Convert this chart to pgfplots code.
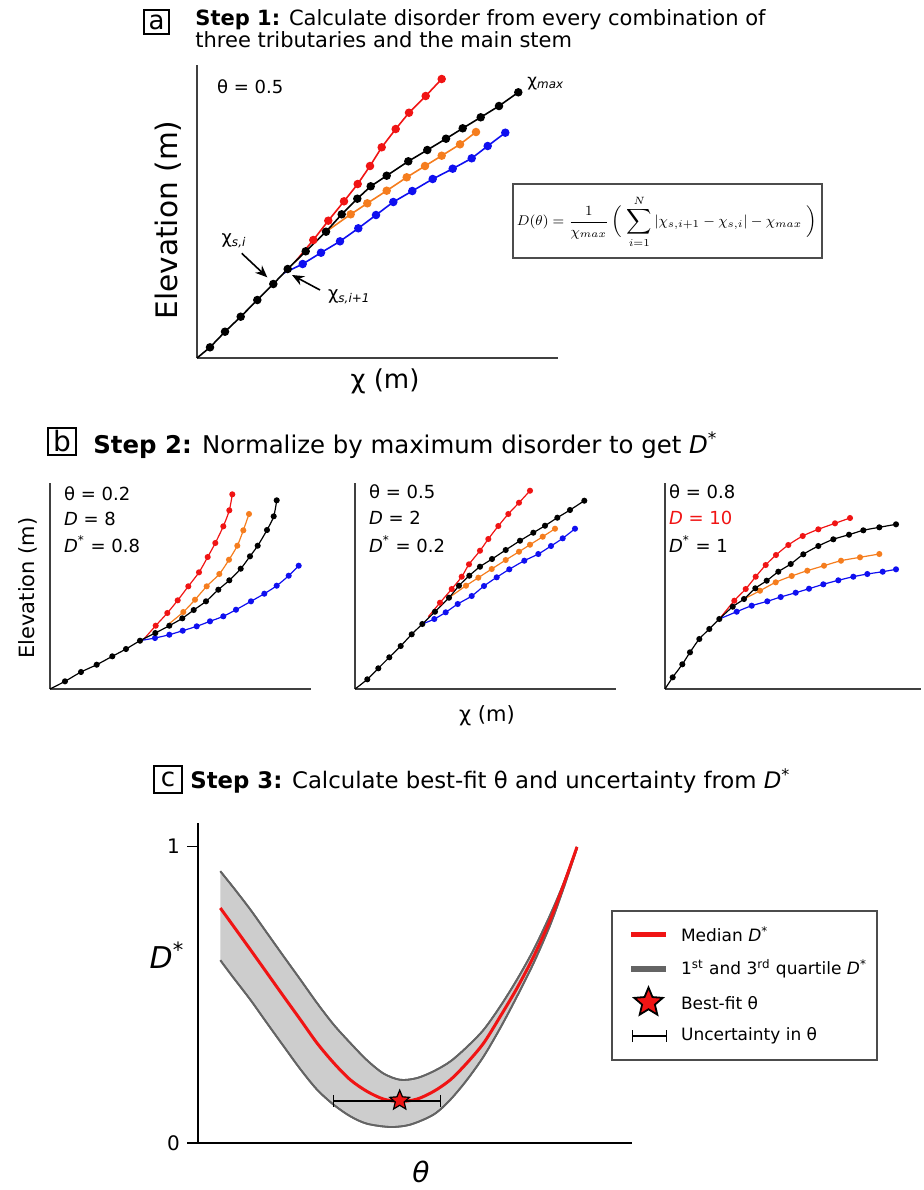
\documentclass[border=0pt]{standalone}
\usepackage{fontspec}
\setmainfont{DejaVu Sans}
\usepackage{pgfplots}
\pgfplotsset{compat=1.18}
\usepgfplotslibrary{fillbetween}
\usetikzlibrary{arrows.meta}
\definecolor{cred}{RGB}{240,20,20}
\definecolor{corange}{RGB}{245,125,30}
\definecolor{cblue}{RGB}{15,15,240}
\definecolor{qgray}{RGB}{100,100,100}
\definecolor{fgray}{RGB}{205,205,205}
\pgfdeclareplotmark{fstar}{%
 \pgfpathmoveto{\pgfpointpolar{90}{\pgfplotmarksize}}%
 \pgfpathlineto{\pgfpointpolar{126}{0.45\pgfplotmarksize}}%
 \pgfpathlineto{\pgfpointpolar{162}{\pgfplotmarksize}}%
 \pgfpathlineto{\pgfpointpolar{198}{0.45\pgfplotmarksize}}%
 \pgfpathlineto{\pgfpointpolar{234}{\pgfplotmarksize}}%
 \pgfpathlineto{\pgfpointpolar{270}{0.45\pgfplotmarksize}}%
 \pgfpathlineto{\pgfpointpolar{306}{\pgfplotmarksize}}%
 \pgfpathlineto{\pgfpointpolar{342}{0.45\pgfplotmarksize}}%
 \pgfpathlineto{\pgfpointpolar{18}{\pgfplotmarksize}}%
 \pgfpathlineto{\pgfpointpolar{54}{0.45\pgfplotmarksize}}%
 \pgfpathclose
 \pgfusepathqfillstroke}
\pgfplotsset{
 panel/.style={scale only axis, axis x line=bottom, axis y line=left,
   axis line style={-, line width=0.9pt, black!75}, xtick=\empty, ytick=\empty,
   clip=false, xmin=0, ymin=0, anchor=south west},
 la/.style={line width=0.8pt, mark=*, mark size=1.7pt, mark phase=2, mark repeat=1},
 lb/.style={line width=0.6pt, smooth, mark=*, mark size=1.2pt, mark phase=2, mark repeat=1},
}
\begin{document}
\begin{tikzpicture}
% ================= axes (positions in pt: px*0.5, y negative) =================
% ---------- panel a ----------
\begin{axis}[panel, at={(98.5pt,-179pt)}, width=180.5pt, height=146.5pt, xmax=361, ymax=293]
\addplot[la, cred] coordinates {(98,96)(116.3,118)(131.3,137.3)(147,156.7)(160.7,174)(173,192)(184.7,210.7)(198.7,229)(212,245.3)(228.7,262)(244.7,279)};
\addplot[la, corange] coordinates {(129,126.3)(153.7,143.7)(170.3,154.7)(189.7,167.3)(209.7,180.7)(228,192)(244.7,202.3)(263,213.7)(279,226)};
\addplot[la, cblue] coordinates {(86.3,84.7)(105.7,94)(124,105.3)(143,116.7)(161.3,129.7)(179,143)(196.3,156)(215.3,167)(235.7,179)(255.7,189.3)(274.7,199.7)(290.7,212)(308.3,225.3)};
\addplot[la, black] coordinates {(0,0)(13,10.7)(28,26.3)(43.7,41.3)(60.3,58)(76.3,74)(90.7,89)(108.7,106.7)(129,126.3)(144.7,143.7)(160.3,159.3)(173.7,171.7)(189.7,182.3)(211.3,196.7)(230.3,208)(249,219.3)(265.7,229.7)(283.7,240.7)(302,252)(321.3,265.7)};
\end{axis}
% ---------- panel b ----------
\begin{axis}[panel, at={(25pt,-344.5pt)}, width=130.5pt, height=103pt, xmax=261, ymax=206]
\addplot[lb, cred] coordinates {(93.3,49.3)(105.7,63.3)(117.3,76)(127.7,88.7)(138.3,102.7)(149,116.7)(157.7,132)(165.3,146)(173.3,162.7)(179.3,178.7)(182.3,194.7)};
\addplot[lb, corange] coordinates {(116.7,63.3)(133.3,77)(145,89.3)(156.7,102.7)(169.3,115)(179,129.3)(187.3,143.3)(193.3,158.7)(199,175)};
\addplot[lb, cblue] coordinates {(91.7,48.7)(105,51)(119.3,54.3)(132.7,58.3)(146.7,62.7)(160,67.7)(173.3,72.7)(186,79.3)(201,87.7)(214.3,95.3)(226.7,103.3)(238.7,113.3)(248.7,123.3)};
\addplot[lb, black] coordinates {(0,0)(15,7.7)(31,17)(46.7,24.3)(62.3,32.7)(76,40)(90,48.3)(105.3,56)(119.3,63.3)(132.3,70.7)(143.7,79)(156,87.7)(168.3,99.3)(179.3,108.7)(190.7,120.3)(200,132.7)(207.7,143.3)(217,159)(223.7,172.7)(226.7,188.7)};
\end{axis}
\begin{axis}[panel, at={(177.5pt,-344.5pt)}, width=130.5pt, height=103pt, xmax=261, ymax=206]
\addplot[lb, cred] coordinates {(73.3,72.3)(85,86.3)(96.7,100)(106.7,112.3)(114,124.7)(125,138.3)(133.3,150)(143.3,163)(153.3,175)(164,186.3)(175,198.3)};
\addplot[lb, corange] coordinates {(94,91.3)(111,103.3)(123.3,111.3)(136.7,120)(150.7,129)(164,137.3)(175,144.3)(187.7,152.3)(200,160.3)};
\addplot[lb, cblue] coordinates {(67.3,65)(79.3,70)(90.7,76.7)(102.7,85)(116.7,93)(129,103)(141.7,111.7)(154.3,119.7)(169.3,128.3)(183.3,135)(196,143)(207.7,150.7)(220,160.3)};
\addplot[lb, black] coordinates {(0,0)(12.3,9.7)(23.3,20.7)(34.3,31.7)(45.7,43)(56.7,54.7)(67.3,65)(80,77.3)(94,91.3)(104,103.3)(114.3,113.3)(125,122.3)(137,130)(150.7,139)(165,148.3)(178.3,156.3)(190,163.3)(202.3,171.3)(215,179)(229.3,188.3)};
\end{axis}
\begin{axis}[panel, at={(332.5pt,-344.5pt)}, width=128pt, height=103pt, xmax=256, ymax=206]
\addplot[lb, cred] coordinates {(56,72)(69.3,88.3)(80.7,100)(90.7,112.3)(100.7,124)(111,134)(123.3,144)(137.7,153)(153.3,159.7)(170,165.7)(185,171)};
\addplot[lb, corange] coordinates {(79,90)(95,98.3)(110.7,106.7)(126.7,113)(142.3,118.3)(159,123.3)(176,128.3)(195,131.7)(214.3,135)};
\addplot[lb, cblue] coordinates {(54.3,70)(71.7,77.3)(86.7,83.3)(102.3,87.7)(115.7,92)(130.7,96.3)(144,100.3)(158.3,104.7)(173.3,108.7)(188.3,112.3)(202.3,115)(217.7,117.3)(231,119.7)};
\addplot[lb, black] coordinates {(0,0)(7.7,11.7)(17.3,24.7)(25,36.7)(34.3,50)(44.3,60)(54.3,70)(67.7,82.3)(79,90)(90.3,100.7)(101.7,108.3)(113.3,117.3)(125.7,125)(138.3,134.7)(153.3,143)(168.3,149.7)(184,154.3)(198.3,158.7)(214.3,161.7)(231,164.7)};
\end{axis}
% ---------- panel c ----------
\begin{axis}[scale only axis, at={(99pt,-571.5pt)}, anchor=south west, width=217pt, height=160pt,
  xmin=0, xmax=434, ymin=0, ymax=1.0786, clip=false,
  axis x line=bottom, axis y line=left, axis line style={-, line width=0.9pt, black},
  xtick=\empty, ytick={0,1}, tick align=outside, major tick length=5.5pt,
  tick style={line width=0.8pt, black},
  yticklabel style={font=\fontsize{10}{12}\selectfont},
  /pgf/number format/assume math mode=true]
\addplot[name path=up, draw=qgray, line width=0.9pt, smooth] coordinates {(22.33,0.916)(35.67,0.860)(52.33,0.787)(69,0.708)(85.67,0.629)(102.33,0.551)(119,0.472)(135.67,0.399)(152.33,0.337)(169,0.279)(185.67,0.234)(202.33,0.213)(219,0.219)(235.67,0.242)(252.33,0.275)(269,0.324)(285.67,0.382)(302.33,0.461)(319,0.551)(335.67,0.652)(352.33,0.770)(365.67,0.876)(379,0.998)};
\addplot[name path=lo, draw=qgray, line width=0.9pt, smooth] coordinates {(22.33,0.616)(35.67,0.556)(52.33,0.483)(69,0.404)(85.67,0.326)(102.33,0.249)(119,0.180)(135.67,0.129)(152.33,0.090)(169,0.065)(192.33,0.054)(212.33,0.062)(235.67,0.096)(252.33,0.146)(269,0.213)(285.67,0.292)(302.33,0.388)(319,0.494)(335.67,0.607)(352.33,0.736)(365.67,0.860)(379,0.994)};
\addplot[fgray] fill between[of=up and lo];
\addplot[draw=qgray, line width=0.9pt, smooth] coordinates {(22.33,0.916)(35.67,0.860)(52.33,0.787)(69,0.708)(85.67,0.629)(102.33,0.551)(119,0.472)(135.67,0.399)(152.33,0.337)(169,0.279)(185.67,0.234)(202.33,0.213)(219,0.219)(235.67,0.242)(252.33,0.275)(269,0.324)(285.67,0.382)(302.33,0.461)(319,0.551)(335.67,0.652)(352.33,0.770)(365.67,0.876)(379,0.998)};
\addplot[draw=qgray, line width=0.9pt, smooth] coordinates {(22.33,0.616)(35.67,0.556)(52.33,0.483)(69,0.404)(85.67,0.326)(102.33,0.249)(119,0.180)(135.67,0.129)(152.33,0.090)(169,0.065)(192.33,0.054)(212.33,0.062)(235.67,0.096)(252.33,0.146)(269,0.213)(285.67,0.292)(302.33,0.388)(319,0.494)(335.67,0.607)(352.33,0.736)(365.67,0.860)(379,0.994)};
\addplot[cred, line width=1.5pt, smooth] coordinates {(22.33,0.792)(35.67,0.730)(52.33,0.652)(69,0.573)(85.67,0.494)(102.33,0.416)(119,0.337)(135.67,0.270)(152.33,0.213)(169,0.174)(185.67,0.148)(202.33,0.140)(219,0.148)(235.67,0.174)(252.33,0.213)(269,0.270)(285.67,0.337)(302.33,0.427)(319,0.522)(335.67,0.629)(352.33,0.753)(365.67,0.871)(379,0.998)};
\addplot[black, line width=0.7pt, {Bar[width=6pt]}-{Bar[width=6pt]}] coordinates {(135,0.142)(243.3,0.142)};
\addplot[only marks, mark=fstar, mark size=5.2pt, mark options={fill=cred, draw=black, line width=0.6pt}] coordinates {(201.7,0.143)};
\end{axis}
\begin{axis}[scale only axis, hide axis, at={(315.5pt,-510pt)}, anchor=south west, width=17.5pt, height=17.5pt, xmin=0, xmax=1, ymin=0, ymax=1, clip=false]
\addplot[only marks, mark=fstar, mark size=7.5pt, mark options={fill=cred, draw=black, line width=0.9pt}] coordinates {(0.5,0.5)};
\end{axis}
% ================= annotations (pixel coordinates) =================
\begin{scope}[x=0.5pt,y=-0.5pt]
% panel a
\draw[line width=0.6pt] (144,10) rectangle (169,34);
\node[font=\fontsize{13}{15}\selectfont] at (156.5,22) {a};
\node[anchor=base west, inner sep=0pt, font=\fontsize{10.5}{12}\selectfont] at (195,25) {\textbf{Step 1:} Calculate disorder from every combination of};
\node[anchor=base west, inner sep=0pt, font=\fontsize{10.5}{12}\selectfont] at (195,47) {three tributaries and the main stem};
\node[anchor=west, font=\fontsize{9}{11}\selectfont] at (210,87) {θ = 0.5};
\node[anchor=base west, inner sep=0pt, font=\fontsize{8.5}{10}\selectfont] at (527,86) {χ\textsubscript{\textit{max}}};
\node[font=\fontsize{9}{11}\selectfont] at (234,241) {χ\textsubscript{\textit{s,i}}};
\node[anchor=west, font=\fontsize{9}{11}\selectfont] at (321,297) {χ\textsubscript{\textit{s,i+1}}};
\draw[-{Stealth[length=6pt,width=5pt]}, line width=0.8pt] (241.7,253.3) -- (267.3,277.3);
\draw[-{Stealth[length=6pt,width=5pt]}, line width=0.8pt] (320,290) -- (292,275);
\draw[line width=0.6pt, black!70] (513,184) rectangle (822,258);
\node[inner sep=0pt] at (667,222) {\scalebox{0.88}{\fontsize{8}{9}\selectfont$D(\theta)=\displaystyle\frac{1}{\chi_{max}}\left(\vphantom{\displaystyle\sum}\right.\sum_{i=1}^{N}\left|\chi_{s,i+1}-\chi_{s,i}\right|-\chi_{max}\left.\vphantom{\displaystyle\sum}\right)$}};
\node[rotate=90, font=\fontsize{14.8}{17}\selectfont] at (168,220) {Elevation (m)};
\node[font=\fontsize{13}{15}\selectfont] at (385,381) {χ (m)};
% panel b
\draw[line width=0.6pt] (48,428) rectangle (76,455);
\node[font=\fontsize{14}{16}\selectfont] at (62,441.5) {b};
\node[anchor=base west, inner sep=0pt, font=\fontsize{12.2}{14}\selectfont] at (93,453) {\textbf{Step 2:} Normalize by maximum disorder to get \textit{D}\textsuperscript{*}};
\begin{scope}[every node/.style={anchor=west, font=\fontsize{9}{11}\selectfont}]
\node at (57,494) {θ = 0.2};
\node at (57,519) {\textit{D} = 8};
\node at (57,544) {\textit{D}\textsuperscript{*} = 0.8};
\node at (362,492) {θ = 0.5};
\node at (362,518) {\textit{D} = 2};
\node at (362,544) {\textit{D}\textsuperscript{*} = 0.2};
\node at (662,492) {θ = 0.8};
\node[text=cred] at (662,518) {\textit{D} = 10};
\node at (662,544) {\textit{D}\textsuperscript{*} = 1};
\end{scope}
\node[rotate=90, font=\fontsize{10.5}{12}\selectfont] at (28,588) {Elevation (m)};
\node[font=\fontsize{10.5}{12}\selectfont] at (487,716) {χ (m)};
% panel c
\draw[line width=0.6pt] (154,766) rectangle (182,793);
\node[font=\fontsize{13}{15}\selectfont] at (168,779.5) {c};
\node[anchor=base west, inner sep=0pt, font=\fontsize{11.4}{13}\selectfont] at (190,788) {\textbf{Step 3:} Calculate best-fit θ and uncertainty from \textit{D}\textsuperscript{*}};
\draw[line width=0.6pt, black!70] (612,911) rectangle (877,1060);
\draw[cred, line width=2.5pt] (631,934) -- (666,934);
\draw[qgray, line width=3pt] (631,969) -- (666,969);
\draw[black, line width=0.6pt, {Bar[width=6pt]}-{Bar[width=6pt]}] (632,1036) -- (667,1036);
\begin{scope}[every node/.style={anchor=west, font=\fontsize{8.5}{10}\selectfont}]
\node at (674,934) {Median \textit{D}\textsuperscript{*}};
\node at (674,969) {1\textsuperscript{st} and 3\textsuperscript{rd} quartile \textit{D}\textsuperscript{*}};
\node at (674,1003) {Best-fit θ};
\node at (674,1036) {Uncertainty in θ};
\end{scope}
\node[font=\fontsize{15}{17}\selectfont] at (167,955) {\textit{D}\textsuperscript{*}};
\node[font=\fontsize{14}{16}\selectfont] at (421,1172) {\textit{θ}};
\end{scope}
\pgfresetboundingbox
\path (0pt,0pt) rectangle (462pt,-595pt);
\end{tikzpicture}
\end{document}
